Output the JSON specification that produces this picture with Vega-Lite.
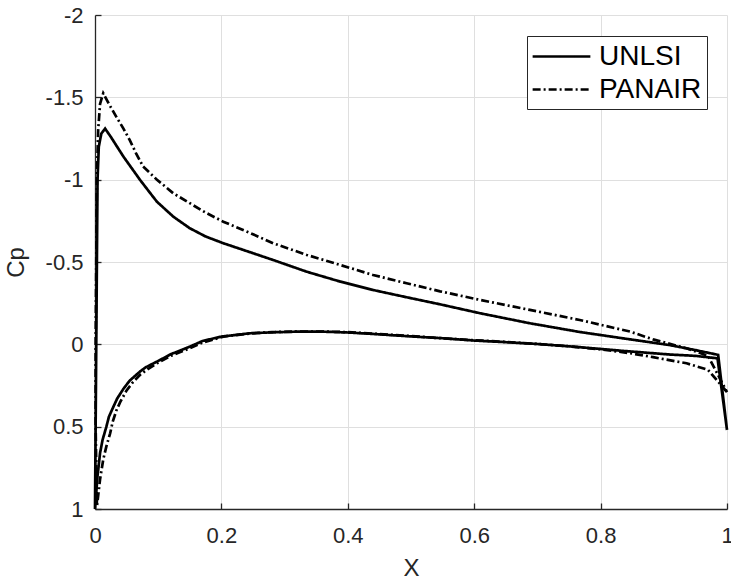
{
  "$schema": "https://vega.github.io/schema/vega-lite/v6.json",
  "width": 632,
  "height": 494,
  "autosize": {"type": "none"},
  "padding": {"left": 95, "top": 15, "right": 4, "bottom": 71},
  "background": "white",
  "config": {
    "view": {"stroke": null},
    "font": "Liberation Sans",
    "axis": {
      "domainColor": "#262626",
      "domainWidth": 1.3,
      "tickColor": "#262626",
      "tickWidth": 1.3,
      "tickSize": -6,
      "gridColor": "#dfdfdf",
      "gridWidth": 1,
      "labelColor": "#262626",
      "labelFont": "Liberation Sans",
      "labelFontSize": 22,
      "titleColor": "#262626",
      "titleFont": "Liberation Sans",
      "titleFontSize": 24,
      "titleFontWeight": "normal"
    }
  },
  "data": {
    "values": [
      {"s": "UNLSI", "i": 1, "x": 1.0, "cp": 0.52},
      {"s": "UNLSI", "i": 2, "x": 0.985, "cp": 0.085},
      {"s": "UNLSI", "i": 3, "x": 0.95, "cp": 0.07},
      {"s": "UNLSI", "i": 4, "x": 0.91, "cp": 0.062},
      {"s": "UNLSI", "i": 5, "x": 0.87, "cp": 0.05},
      {"s": "UNLSI", "i": 6, "x": 0.836, "cp": 0.04},
      {"s": "UNLSI", "i": 7, "x": 0.8, "cp": 0.028},
      {"s": "UNLSI", "i": 8, "x": 0.757, "cp": 0.014},
      {"s": "UNLSI", "i": 9, "x": 0.7, "cp": -0.002},
      {"s": "UNLSI", "i": 10, "x": 0.65, "cp": -0.013},
      {"s": "UNLSI", "i": 11, "x": 0.6, "cp": -0.023},
      {"s": "UNLSI", "i": 12, "x": 0.55, "cp": -0.037},
      {"s": "UNLSI", "i": 13, "x": 0.5, "cp": -0.048},
      {"s": "UNLSI", "i": 14, "x": 0.44, "cp": -0.063},
      {"s": "UNLSI", "i": 15, "x": 0.4, "cp": -0.072},
      {"s": "UNLSI", "i": 16, "x": 0.36, "cp": -0.077},
      {"s": "UNLSI", "i": 17, "x": 0.32, "cp": -0.077},
      {"s": "UNLSI", "i": 18, "x": 0.28, "cp": -0.073},
      {"s": "UNLSI", "i": 19, "x": 0.245, "cp": -0.067},
      {"s": "UNLSI", "i": 20, "x": 0.2, "cp": -0.047},
      {"s": "UNLSI", "i": 21, "x": 0.17, "cp": -0.02},
      {"s": "UNLSI", "i": 22, "x": 0.15, "cp": 0.014},
      {"s": "UNLSI", "i": 23, "x": 0.12, "cp": 0.06},
      {"s": "UNLSI", "i": 24, "x": 0.098, "cp": 0.105},
      {"s": "UNLSI", "i": 25, "x": 0.08, "cp": 0.14},
      {"s": "UNLSI", "i": 26, "x": 0.071, "cp": 0.166},
      {"s": "UNLSI", "i": 27, "x": 0.055, "cp": 0.22},
      {"s": "UNLSI", "i": 28, "x": 0.045, "cp": 0.27},
      {"s": "UNLSI", "i": 29, "x": 0.035, "cp": 0.33},
      {"s": "UNLSI", "i": 30, "x": 0.029, "cp": 0.38},
      {"s": "UNLSI", "i": 31, "x": 0.022, "cp": 0.44},
      {"s": "UNLSI", "i": 32, "x": 0.018, "cp": 0.5},
      {"s": "UNLSI", "i": 33, "x": 0.012, "cp": 0.58},
      {"s": "UNLSI", "i": 34, "x": 0.008, "cp": 0.66},
      {"s": "UNLSI", "i": 35, "x": 0.004, "cp": 0.8},
      {"s": "UNLSI", "i": 36, "x": 0.0, "cp": 1.0},
      {"s": "UNLSI", "i": 37, "x": 0.001, "cp": 0.5},
      {"s": "UNLSI", "i": 38, "x": 0.002, "cp": 0.0},
      {"s": "UNLSI", "i": 39, "x": 0.003, "cp": -0.5},
      {"s": "UNLSI", "i": 40, "x": 0.004, "cp": -1.0},
      {"s": "UNLSI", "i": 41, "x": 0.006, "cp": -1.2},
      {"s": "UNLSI", "i": 42, "x": 0.01, "cp": -1.28},
      {"s": "UNLSI", "i": 43, "x": 0.016, "cp": -1.31},
      {"s": "UNLSI", "i": 44, "x": 0.025, "cp": -1.26},
      {"s": "UNLSI", "i": 45, "x": 0.035, "cp": -1.2},
      {"s": "UNLSI", "i": 46, "x": 0.045, "cp": -1.14},
      {"s": "UNLSI", "i": 47, "x": 0.058, "cp": -1.07},
      {"s": "UNLSI", "i": 48, "x": 0.071, "cp": -1.0},
      {"s": "UNLSI", "i": 49, "x": 0.085, "cp": -0.93},
      {"s": "UNLSI", "i": 50, "x": 0.098, "cp": -0.866},
      {"s": "UNLSI", "i": 51, "x": 0.124, "cp": -0.775},
      {"s": "UNLSI", "i": 52, "x": 0.15, "cp": -0.705},
      {"s": "UNLSI", "i": 53, "x": 0.175, "cp": -0.655},
      {"s": "UNLSI", "i": 54, "x": 0.203, "cp": -0.614},
      {"s": "UNLSI", "i": 55, "x": 0.245, "cp": -0.56},
      {"s": "UNLSI", "i": 56, "x": 0.282, "cp": -0.512},
      {"s": "UNLSI", "i": 57, "x": 0.335, "cp": -0.441},
      {"s": "UNLSI", "i": 58, "x": 0.388, "cp": -0.381},
      {"s": "UNLSI", "i": 59, "x": 0.44, "cp": -0.33},
      {"s": "UNLSI", "i": 60, "x": 0.493, "cp": -0.286},
      {"s": "UNLSI", "i": 61, "x": 0.546, "cp": -0.243},
      {"s": "UNLSI", "i": 62, "x": 0.609, "cp": -0.189},
      {"s": "UNLSI", "i": 63, "x": 0.688, "cp": -0.128},
      {"s": "UNLSI", "i": 64, "x": 0.767, "cp": -0.075},
      {"s": "UNLSI", "i": 65, "x": 0.847, "cp": -0.03},
      {"s": "UNLSI", "i": 66, "x": 0.91, "cp": 0.005},
      {"s": "UNLSI", "i": 67, "x": 0.95, "cp": 0.035},
      {"s": "UNLSI", "i": 68, "x": 0.986, "cp": 0.064},
      {"s": "UNLSI", "i": 69, "x": 1.0, "cp": 0.52},

      {"s": "PANAIR", "i": 1, "x": 1.0, "cp": 0.29},
      {"s": "PANAIR", "i": 2, "x": 0.97, "cp": 0.155},
      {"s": "PANAIR", "i": 3, "x": 0.936, "cp": 0.115},
      {"s": "PANAIR", "i": 4, "x": 0.883, "cp": 0.078},
      {"s": "PANAIR", "i": 5, "x": 0.847, "cp": 0.054},
      {"s": "PANAIR", "i": 6, "x": 0.8, "cp": 0.03},
      {"s": "PANAIR", "i": 7, "x": 0.75, "cp": 0.012},
      {"s": "PANAIR", "i": 8, "x": 0.7, "cp": -0.002},
      {"s": "PANAIR", "i": 9, "x": 0.65, "cp": -0.015},
      {"s": "PANAIR", "i": 10, "x": 0.6, "cp": -0.025},
      {"s": "PANAIR", "i": 11, "x": 0.55, "cp": -0.037},
      {"s": "PANAIR", "i": 12, "x": 0.5, "cp": -0.05},
      {"s": "PANAIR", "i": 13, "x": 0.44, "cp": -0.065},
      {"s": "PANAIR", "i": 14, "x": 0.4, "cp": -0.074},
      {"s": "PANAIR", "i": 15, "x": 0.36, "cp": -0.078},
      {"s": "PANAIR", "i": 16, "x": 0.32, "cp": -0.078},
      {"s": "PANAIR", "i": 17, "x": 0.28, "cp": -0.074},
      {"s": "PANAIR", "i": 18, "x": 0.245, "cp": -0.066},
      {"s": "PANAIR", "i": 19, "x": 0.203, "cp": -0.047},
      {"s": "PANAIR", "i": 20, "x": 0.17, "cp": -0.01},
      {"s": "PANAIR", "i": 21, "x": 0.15, "cp": 0.024},
      {"s": "PANAIR", "i": 22, "x": 0.12, "cp": 0.07},
      {"s": "PANAIR", "i": 23, "x": 0.098, "cp": 0.115},
      {"s": "PANAIR", "i": 24, "x": 0.08, "cp": 0.16},
      {"s": "PANAIR", "i": 25, "x": 0.071, "cp": 0.186},
      {"s": "PANAIR", "i": 26, "x": 0.06, "cp": 0.23},
      {"s": "PANAIR", "i": 27, "x": 0.05, "cp": 0.28},
      {"s": "PANAIR", "i": 28, "x": 0.04, "cp": 0.35},
      {"s": "PANAIR", "i": 29, "x": 0.034, "cp": 0.4},
      {"s": "PANAIR", "i": 30, "x": 0.028, "cp": 0.47},
      {"s": "PANAIR", "i": 31, "x": 0.024, "cp": 0.54},
      {"s": "PANAIR", "i": 32, "x": 0.018, "cp": 0.62},
      {"s": "PANAIR", "i": 33, "x": 0.013, "cp": 0.7},
      {"s": "PANAIR", "i": 34, "x": 0.008, "cp": 0.82},
      {"s": "PANAIR", "i": 35, "x": 0.003, "cp": 0.985},
      {"s": "PANAIR", "i": 36, "x": 0.001, "cp": 0.5},
      {"s": "PANAIR", "i": 37, "x": 0.001, "cp": 0.0},
      {"s": "PANAIR", "i": 38, "x": 0.002, "cp": -0.5},
      {"s": "PANAIR", "i": 39, "x": 0.003, "cp": -1.0},
      {"s": "PANAIR", "i": 40, "x": 0.005, "cp": -1.3},
      {"s": "PANAIR", "i": 41, "x": 0.008, "cp": -1.46},
      {"s": "PANAIR", "i": 42, "x": 0.013, "cp": -1.525},
      {"s": "PANAIR", "i": 43, "x": 0.022, "cp": -1.46},
      {"s": "PANAIR", "i": 44, "x": 0.034, "cp": -1.38},
      {"s": "PANAIR", "i": 45, "x": 0.045, "cp": -1.31},
      {"s": "PANAIR", "i": 46, "x": 0.055, "cp": -1.24},
      {"s": "PANAIR", "i": 47, "x": 0.065, "cp": -1.16},
      {"s": "PANAIR", "i": 48, "x": 0.076, "cp": -1.08},
      {"s": "PANAIR", "i": 49, "x": 0.087, "cp": -1.04},
      {"s": "PANAIR", "i": 50, "x": 0.098, "cp": -1.0},
      {"s": "PANAIR", "i": 51, "x": 0.124, "cp": -0.917},
      {"s": "PANAIR", "i": 52, "x": 0.15, "cp": -0.857},
      {"s": "PANAIR", "i": 53, "x": 0.175, "cp": -0.8},
      {"s": "PANAIR", "i": 54, "x": 0.203, "cp": -0.745},
      {"s": "PANAIR", "i": 55, "x": 0.245, "cp": -0.677},
      {"s": "PANAIR", "i": 56, "x": 0.282, "cp": -0.614},
      {"s": "PANAIR", "i": 57, "x": 0.335, "cp": -0.543},
      {"s": "PANAIR", "i": 58, "x": 0.388, "cp": -0.482},
      {"s": "PANAIR", "i": 59, "x": 0.44, "cp": -0.421},
      {"s": "PANAIR", "i": 60, "x": 0.493, "cp": -0.371},
      {"s": "PANAIR", "i": 61, "x": 0.546, "cp": -0.322},
      {"s": "PANAIR", "i": 62, "x": 0.609, "cp": -0.27},
      {"s": "PANAIR", "i": 63, "x": 0.688, "cp": -0.209},
      {"s": "PANAIR", "i": 64, "x": 0.767, "cp": -0.148},
      {"s": "PANAIR", "i": 65, "x": 0.847, "cp": -0.077},
      {"s": "PANAIR", "i": 66, "x": 0.883, "cp": -0.03},
      {"s": "PANAIR", "i": 67, "x": 0.936, "cp": 0.024},
      {"s": "PANAIR", "i": 68, "x": 0.97, "cp": 0.07},
      {"s": "PANAIR", "i": 69, "x": 1.0, "cp": 0.29}
    ]
  },
  "mark": {"type": "line", "color": "black", "strokeWidth": 2.7, "clip": false},
  "encoding": {
    "x": {
      "field": "x",
      "type": "quantitative",
      "scale": {"domain": [0, 1], "nice": false, "zero": false},
      "axis": {
        "title": "X",
        "values": [0, 0.2, 0.4, 0.6, 0.8, 1],
        "labelExpr": "datum.value + ''",
        "labelPadding": 22,
        "titlePadding": 10,
        "labelFlush": false
      }
    },
    "y": {
      "field": "cp",
      "type": "quantitative",
      "scale": {"domain": [-2, 1], "reverse": true, "nice": false, "zero": false},
      "axis": {
        "title": "Cp",
        "values": [-2, -1.5, -1, -0.5, 0, 0.5, 1],
        "labelExpr": "datum.value + ''",
        "labelPadding": 18,
        "titlePadding": 17,
        "labelFlush": false
      }
    },
    "order": {"field": "i", "type": "quantitative"},
    "strokeDash": {
      "field": "s",
      "type": "nominal",
      "scale": {"domain": ["UNLSI", "PANAIR"], "range": [[1, 0], [8, 3, 2, 3]]},
      "legend": {
        "title": null,
        "orient": "none",
        "legendX": 432,
        "legendY": 21,
        "direction": "vertical",
        "symbolType": "M-2.1,0H2.1",
        "symbolSize": 756,
        "symbolStrokeWidth": 2.7,
        "symbolStrokeColor": "black",
        "symbolFillColor": "transparent",
        "symbolOffset": 14,
        "labelFont": "Liberation Sans",
        "labelFontSize": 28,
        "labelColor": "black",
        "labelOffset": 22,
        "labelExpr": "datum.label + ' '",
        "rowPadding": 3,
        "padding": 5,
        "strokeColor": "#262626",
        "fillColor": "white",
        "labelLimit": 300
      }
    }
  }
}
